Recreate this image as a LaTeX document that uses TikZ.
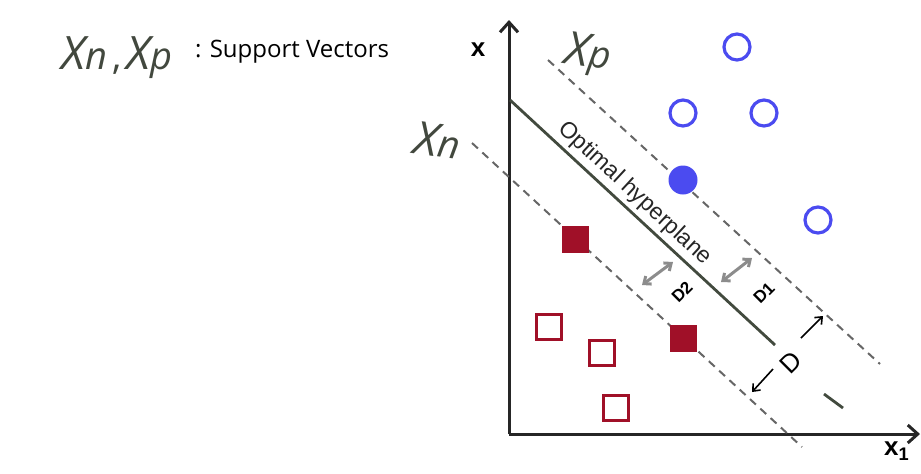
\documentclass[tikz,border=0pt]{standalone}
\usepackage{fontspec}
\setmainfont{Open Sans}
\newfontfamily\arialfont{Liberation Sans}
\usepackage{xcolor}
\usetikzlibrary{arrows.meta}
\definecolor{svblue}{RGB}{75,75,240}
\definecolor{svred}{RGB}{160,16,40}
\definecolor{pencil}{RGB}{66,72,62}
\definecolor{planegray}{RGB}{66,74,62}
\newcommand{\handx}[1]{{\fontsize{23}{23}\selectfont\itshape X}{\fontsize{19}{19}\selectfont\itshape #1}}

\begin{document}
\begin{tikzpicture}[x=0.5pt,y=-0.5pt,
  axis/.style={line width=1.5pt,draw=black!85,-{Straight Barb[length=5pt,width=9pt,line width=1.5pt]}},
  marginline/.style={line width=1pt,draw=black!60,dash pattern=on 4pt off 3pt},
  opencirc/.style={circle,draw=svblue,line width=1.6pt,minimum size=13pt,inner sep=0pt},
  fullcirc/.style={circle,fill=svblue,minimum size=14.5pt,inner sep=0pt},
  opensq/.style={rectangle,draw=svred,line width=1.7pt,minimum size=12.5pt,inner sep=0pt},
  fullsq/.style={rectangle,fill=svred,minimum size=13.5pt,inner sep=0pt},
  darrow/.style={line width=0.8pt,-{Straight Barb[length=3pt,width=5pt]}},
  pencilarrow/.style={line width=1.5pt,draw=black!45,{Straight Barb[length=3pt,width=5pt]}-{Straight Barb[length=3pt,width=5pt]}}]
\useasboundingbox (0,0) rectangle (921,473);

% axes
\coordinate (O) at (509,434);
\coordinate (ytop) at (509,20);
\coordinate (xend) at (920,434);
\draw[axis] (O) -- (ytop);
\draw[axis] (O) -- (xend);
\node[font=\arialfont\bfseries\fontsize{13}{13}\selectfont] (xlab) at (478,50) {x};
\node[font=\arialfont\bfseries\fontsize{13}{13}\selectfont] (x1lab) at (897,451) {x\textsubscript{1}};

% hyperplane and margins
\coordinate (h1) at (510,100);
\coordinate (h2) at (775,345);
\coordinate (h3) at (824,394);
\coordinate (h4) at (843,408);
\draw[line width=1.4pt,draw=planegray] (h1) -- node[sloped,above,pos=0.43,inner sep=2pt,font=\arialfont\fontsize{11.5}{11.5}\selectfont,text=black!85] {Optimal hyperplane} (h2);
\draw[line width=1.4pt,draw=planegray] (h3) -- (h4);
\coordinate (p1) at (548,60);
\coordinate (p2) at (880,364);
\coordinate (n1) at (472,143);
\coordinate (n2) at (802,447);
\draw[marginline] (p1) -- (p2);
\draw[marginline] (n1) -- (n2);

% data points
\foreach \px/\py [count=\i] in {737/47,683/113,764/113,818/220}
  \node[opencirc] (c\i) at (\px,\py) {};
\node[fullcirc] (cs) at (683,180) {};
\foreach \px/\py [count=\i] in {549/327,602/353,616/408}
  \node[opensq] (s\i) at (\px,\py) {};
\node[fullsq] (ss1) at (575,239) {};
\node[fullsq] (ss2) at (683,338) {};

% margin width
\node[rotate=45,font=\arialfont\fontsize{13}{13}\selectfont] (D) at (791,363) {D};
\coordinate (da1) at (773,369);
\coordinate (da2) at (752,392);
\coordinate (db1) at (801,338);
\coordinate (db2) at (823,316);
\draw[darrow] (da1) -- (da2);
\draw[darrow] (db1) -- (db2);
\coordinate (e1) at (642,285);
\coordinate (e2) at (673,262);
\coordinate (f1) at (721,282);
\coordinate (f2) at (752,258);
\draw[pencilarrow] (e1) -- (e2);
\draw[pencilarrow] (f1) -- (f2);
\node[rotate=45,font=\arialfont\bfseries\fontsize{8.5}{8.5}\selectfont] (D2) at (682,292) {D2};
\node[rotate=45,font=\arialfont\bfseries\fontsize{8.5}{8.5}\selectfont] (D1) at (764,293) {D1};

% notes
\node[text=pencil,rotate=-8] (xp) at (588,55) {\handx{p}};
\node[text=pencil,rotate=-8] (xn) at (438,140) {\handx{n}};
\node[text=pencil,anchor=east] (svx) at (180,58) {\handx{n}\ {\fontsize{19}{19}\selectfont,}\ \handx{p}};
\node[anchor=west,font=\fontsize{12}{12}\selectfont] (sv) at (188,52) {: Support Vectors};
\end{tikzpicture}
\end{document}
